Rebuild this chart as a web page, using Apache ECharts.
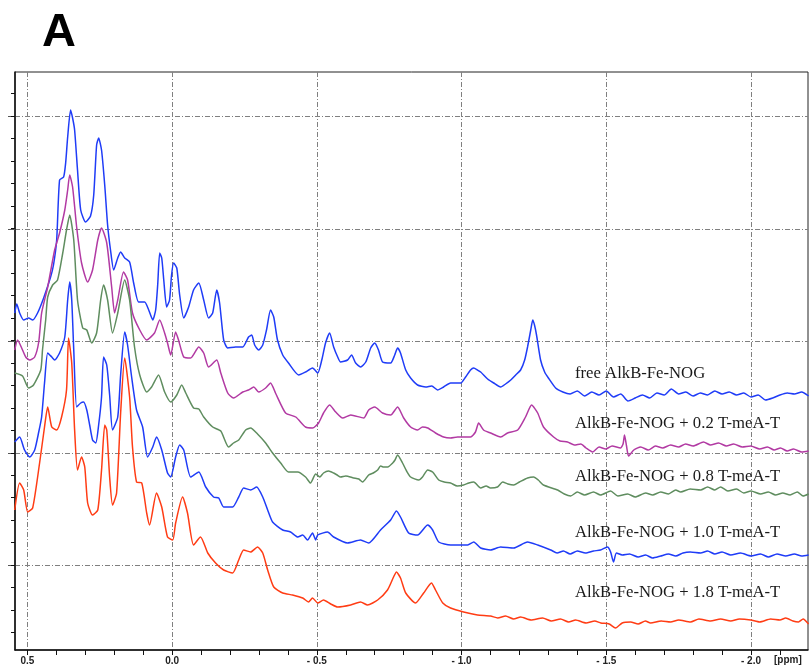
<!DOCTYPE html>
<html>
<head>
<meta charset="utf-8">
<script src="https://cdn.jsdelivr.net/npm/echarts@6/dist/echarts.min.js"></script>
<style>html,body{margin:0;padding:0;background:#fff}#c{width:810px;height:672px}</style>
</head>
<body>
<div id="c"></div>
<script>
// Chemical shift (ppm) / intensity (arbitrary units, stacked traces)
const freeAlkB = [[0.544,337],[0.537,346],[0.527,337],[0.513,330],[0.496,332],[0.482,330],[0.465,337],[0.444,352],[0.420,373],[0.410,385],[0.399,410],[0.389,470],[0.375,473],[0.368,487],[0.361,513],[0.351,540],[0.344,532],[0.337,520],[0.327,480],[0.316,440],[0.299,428],[0.282,434],[0.271,455],[0.261,505],[0.254,512],[0.244,500],[0.233,465],[0.223,425],[0.213,400],[0.202,380],[0.188,392],[0.178,398],[0.164,392],[0.147,388],[0.133,367],[0.116,348],[0.095,348],[0.081,340],[0.067,330],[0.057,340],[0.050,365],[0.043,397],[0.036,392],[0.029,370],[0.019,343],[0.009,350],[0.002,375],[-0.005,387],[-0.016,382],[-0.026,355],[-0.040,332],[-0.057,343],[-0.074,360],[-0.092,367],[-0.109,350],[-0.126,332],[-0.140,337],[-0.154,360],[-0.164,347],[-0.178,310],[-0.192,302],[-0.219,303],[-0.244,303],[-0.264,313],[-0.275,315],[-0.285,305],[-0.299,300],[-0.313,305],[-0.326,320],[-0.340,340],[-0.351,333],[-0.364,310],[-0.382,295],[-0.402,287],[-0.437,275],[-0.461,278],[-0.485,282],[-0.503,277],[-0.517,290],[-0.530,307],[-0.544,317],[-0.558,303],[-0.572,293],[-0.582,288],[-0.606,290],[-0.620,295],[-0.634,287],[-0.651,283],[-0.669,288],[-0.686,302],[-0.700,307],[-0.713,300],[-0.727,288],[-0.755,287],[-0.769,295],[-0.779,302],[-0.789,297],[-0.807,280],[-0.824,272],[-0.848,265],[-0.876,263],[-0.897,264],[-0.917,260],[-0.938,263],[-0.962,267],[-0.997,267],[-1.014,273],[-1.031,280],[-1.042,282],[-1.055,280],[-1.066,278],[-1.090,271],[-1.111,267],[-1.135,263],[-1.152,266],[-1.170,270],[-1.187,275],[-1.204,280],[-1.218,290],[-1.228,303],[-1.239,320],[-1.246,330],[-1.252,325],[-1.259,315],[-1.273,290],[-1.287,278],[-1.300,272],[-1.325,262],[-1.350,258],[-1.375,256],[-1.400,259],[-1.425,254],[-1.450,258],[-1.475,255],[-1.500,259],[-1.525,253],[-1.550,256],[-1.575,249],[-1.600,252],[-1.625,255],[-1.650,252],[-1.675,257],[-1.700,255],[-1.725,261],[-1.750,256],[-1.775,258],[-1.800,254],[-1.825,257],[-1.850,255],[-1.875,259],[-1.900,256],[-1.925,258],[-1.950,255],[-1.975,257],[-2.000,253],[-2.025,255],[-2.050,250],[-2.075,252],[-2.100,255],[-2.125,257],[-2.150,256],[-2.175,258],[-2.199,254]];

const plus02 = [[0.544,300],[0.534,310],[0.520,302],[0.506,293],[0.492,290],[0.475,293],[0.461,308],[0.451,337],[0.430,363],[0.406,400],[0.389,417],[0.371,440],[0.361,460],[0.354,475],[0.344,463],[0.330,423],[0.313,387],[0.292,368],[0.275,380],[0.257,410],[0.244,422],[0.226,407],[0.209,363],[0.199,337],[0.188,350],[0.168,378],[0.154,370],[0.137,337],[0.112,320],[0.088,310],[0.061,317],[0.043,330],[0.026,317],[0.016,307],[0.005,295],[-0.012,318],[-0.022,310],[-0.040,293],[-0.064,292],[-0.092,303],[-0.109,297],[-0.126,283],[-0.154,290],[-0.168,277],[-0.192,257],[-0.212,252],[-0.244,258],[-0.264,260],[-0.282,263],[-0.299,258],[-0.323,262],[-0.340,267],[-0.357,257],[-0.392,237],[-0.427,233],[-0.461,223],[-0.485,222],[-0.506,227],[-0.523,237],[-0.544,245],[-0.565,238],[-0.589,232],[-0.617,235],[-0.662,232],[-0.679,240],[-0.700,243],[-0.727,237],[-0.755,235],[-0.779,243],[-0.800,232],[-0.824,223],[-0.848,220],[-0.865,223],[-0.883,222],[-0.910,217],[-0.938,213],[-0.962,212],[-0.986,213],[-1.031,213],[-1.048,218],[-1.059,227],[-1.076,220],[-1.100,217],[-1.135,213],[-1.159,217],[-1.194,220],[-1.221,233],[-1.242,245],[-1.263,237],[-1.283,223],[-1.318,213],[-1.340,209],[-1.366,208],[-1.390,205],[-1.412,206],[-1.430,202],[-1.453,198],[-1.475,203],[-1.498,201],[-1.520,204],[-1.549,202],[-1.558,206],[-1.563,215],[-1.570,204],[-1.577,194],[-1.595,200],[-1.619,203],[-1.645,200],[-1.670,204],[-1.695,202],[-1.722,205],[-1.750,203],[-1.774,206],[-1.800,204],[-1.836,208],[-1.860,205],[-1.888,207],[-1.915,204],[-1.940,206],[-1.970,203],[-1.999,204],[-2.030,201],[-2.057,203],[-2.080,200],[-2.102,202],[-2.125,199],[-2.147,201],[-2.175,198],[-2.199,199]];

const plus08 = [[0.544,277],[0.517,274],[0.496,262],[0.479,265],[0.454,280],[0.448,300],[0.437,330],[0.430,353],[0.413,365],[0.396,370],[0.378,397],[0.365,420],[0.354,435],[0.340,410],[0.327,350],[0.309,322],[0.295,320],[0.278,307],[0.261,317],[0.247,350],[0.237,365],[0.223,350],[0.206,317],[0.188,337],[0.164,370],[0.147,350],[0.130,303],[0.112,275],[0.088,258],[0.071,263],[0.047,275],[0.026,258],[0.005,248],[-0.016,255],[-0.033,265],[-0.047,257],[-0.074,242],[-0.092,241],[-0.109,233],[-0.140,223],[-0.168,219],[-0.195,203],[-0.212,207],[-0.230,210],[-0.254,220],[-0.271,222],[-0.295,216],[-0.323,207],[-0.347,197],[-0.375,187],[-0.402,178],[-0.434,178],[-0.461,173],[-0.478,167],[-0.496,176],[-0.510,173],[-0.523,177],[-0.540,179],[-0.558,177],[-0.570,175],[-0.582,173],[-0.600,174],[-0.627,172],[-0.645,171],[-0.658,168],[-0.679,175],[-0.695,177],[-0.710,180],[-0.720,184],[-0.731,183],[-0.745,183],[-0.762,187],[-0.770,190],[-0.779,195],[-0.796,187],[-0.810,179],[-0.824,173],[-0.852,170],[-0.865,173],[-0.883,180],[-0.900,178],[-0.921,170],[-0.940,168],[-0.962,167],[-0.985,164],[-1.007,165],[-1.025,167],[-1.042,168],[-1.066,162],[-1.085,164],[-1.100,162],[-1.124,163],[-1.142,168],[-1.160,166],[-1.180,165],[-1.200,168],[-1.228,172],[-1.249,173],[-1.265,170],[-1.283,165],[-1.332,160],[-1.355,156],[-1.377,154],[-1.400,158],[-1.425,155],[-1.456,158],[-1.480,155],[-1.515,159],[-1.540,154],[-1.574,156],[-1.600,153],[-1.636,157],[-1.660,155],[-1.688,158],[-1.715,156],[-1.740,160],[-1.757,158],[-1.790,161],[-1.826,160],[-1.850,163],[-1.875,160],[-1.895,163],[-1.920,159],[-1.950,161],[-1.975,157],[-2.000,159],[-2.033,156],[-2.060,158],[-2.085,155],[-2.110,157],[-2.135,155],[-2.160,158],[-2.180,154],[-2.199,156]];

const plus10 = [[0.544,208],[0.527,213],[0.510,200],[0.492,193],[0.475,200],[0.461,218],[0.451,233],[0.441,267],[0.430,297],[0.416,293],[0.406,290],[0.389,297],[0.371,313],[0.361,350],[0.354,368],[0.347,350],[0.340,300],[0.330,243],[0.316,247],[0.306,248],[0.295,240],[0.285,225],[0.275,210],[0.264,207],[0.254,225],[0.244,253],[0.237,293],[0.226,285],[0.216,255],[0.206,220],[0.188,233],[0.178,275],[0.164,318],[0.154,305],[0.140,273],[0.123,240],[0.102,223],[0.085,193],[0.067,203],[0.054,213],[0.036,200],[0.016,177],[0.005,173],[-0.012,193],[-0.026,205],[-0.040,200],[-0.064,173],[-0.092,178],[-0.116,163],[-0.143,153],[-0.161,152],[-0.178,143],[-0.209,143],[-0.230,153],[-0.247,162],[-0.271,160],[-0.292,163],[-0.313,153],[-0.330,140],[-0.347,128],[-0.382,120],[-0.409,118],[-0.434,113],[-0.451,115],[-0.468,110],[-0.485,117],[-0.496,110],[-0.503,115],[-0.537,118],[-0.558,113],[-0.606,107],[-0.651,110],[-0.679,107],[-0.720,120],[-0.755,130],[-0.775,139],[-0.789,133],[-0.817,117],[-0.848,115],[-0.883,125],[-0.900,120],[-0.921,108],[-0.962,105],[-1.021,105],[-1.042,108],[-1.066,102],[-1.100,100],[-1.135,103],[-1.180,102],[-1.228,108],[-1.263,105],[-1.308,100],[-1.330,97],[-1.352,99],[-1.375,96],[-1.400,99],[-1.428,97],[-1.456,99],[-1.480,100],[-1.504,103],[-1.515,98],[-1.525,88],[-1.535,97],[-1.555,95],[-1.580,96],[-1.610,93],[-1.636,95],[-1.660,92],[-1.688,94],[-1.715,96],[-1.740,94],[-1.765,97],[-1.790,98],[-1.826,97],[-1.850,99],[-1.875,96],[-1.900,98],[-1.930,95],[-1.964,97],[-2.000,94],[-2.033,96],[-2.060,93],[-2.090,96],[-2.120,94],[-2.150,96],[-2.175,94],[-2.199,95]];

const plus18 = [[0.544,140],[0.527,167],[0.513,160],[0.499,138],[0.482,142],[0.458,187],[0.441,223],[0.430,243],[0.416,223],[0.399,220],[0.382,233],[0.365,260],[0.358,312],[0.347,287],[0.337,220],[0.327,180],[0.313,193],[0.302,183],[0.292,147],[0.275,135],[0.257,140],[0.244,180],[0.233,225],[0.226,220],[0.216,173],[0.206,145],[0.192,157],[0.178,237],[0.164,292],[0.147,253],[0.137,203],[0.123,168],[0.105,167],[0.088,137],[0.078,125],[0.054,157],[0.036,143],[0.016,113],[-0.002,110],[-0.012,127],[-0.036,153],[-0.053,137],[-0.074,105],[-0.098,113],[-0.123,97],[-0.150,87],[-0.178,80],[-0.209,77],[-0.230,90],[-0.247,100],[-0.271,98],[-0.295,103],[-0.313,97],[-0.330,80],[-0.351,63],[-0.382,57],[-0.416,55],[-0.451,52],[-0.471,48],[-0.485,52],[-0.503,47],[-0.523,50],[-0.548,46],[-0.572,43],[-0.617,45],[-0.651,48],[-0.675,45],[-0.710,50],[-0.744,60],[-0.765,73],[-0.775,78],[-0.789,72],[-0.807,57],[-0.841,47],[-0.869,57],[-0.896,67],[-0.910,60],[-0.935,47],[-0.962,42],[-1.007,38],[-1.055,35],[-1.100,34],[-1.125,32],[-1.152,34],[-1.180,31],[-1.204,33],[-1.240,30],[-1.280,32],[-1.310,29],[-1.342,31],[-1.370,28],[-1.394,30],[-1.430,27],[-1.460,29],[-1.481,27],[-1.510,26],[-1.532,22],[-1.555,27],[-1.584,28],[-1.610,26],[-1.635,29],[-1.653,27],[-1.690,29],[-1.722,28],[-1.750,30],[-1.791,28],[-1.820,31],[-1.860,29],[-1.895,31],[-1.930,29],[-1.960,31],[-1.999,30],[-2.030,28],[-2.068,31],[-2.100,30],[-2.120,32],[-2.145,29],[-2.164,28],[-2.180,31],[-2.199,26]];

const seriesNames = ['free AlkB-Fe-NOG','AlkB-Fe-NOG + 0.2 T-meA-T','AlkB-Fe-NOG + 0.8 T-meA-T','AlkB-Fe-NOG + 1.0 T-meA-T','AlkB-Fe-NOG + 1.8 T-meA-T'];
const seriesColors = ['#1f3cf7','#b23aa3','#5f8d5f','#1f3cf7','#ff3c14'];
const xMajorTicks = [0.5, 0.0, -0.5, -1.0, -1.5, -2.0];
const yMajorTicks = [85, 197, 309, 421, 534];

const xMinorTicks = [];
for (let i = 5; i >= -21; i--) xMinorTicks.push(i / 10);
const yMinorTicks = [];
const yStep = (yMajorTicks[4] - yMajorTicks[0]) / 20;
for (let k = -3; k <= 21; k++) yMinorTicks.push(+(yMajorTicks[0] + k * yStep).toFixed(2));

const XMIN = -2.197, XMAX = 0.543, YMIN = 0, YMAX = 578;
const grid = {left: 15, right: 2, top: 72, bottom: 22, show: true, borderColor: '#222', borderWidth: 1, backgroundColor: 'transparent'};
const gridLine = {show: true, lineStyle: {color: '#808080', width: 1, type: [5, 2, 1, 2]}};

const chart = echarts.init(document.getElementById('c'), null, {renderer: 'canvas'});
const dataSets = [freeAlkB, plus02, plus08, plus10, plus18];
const labelY = [373, 423, 476, 532, 592];

chart.setOption({
  animation: false,
  backgroundColor: '#fff',
  title: {text: 'A', left: 37, top: 5, textStyle: {fontSize: 47, fontWeight: 'bold', fontFamily: 'Liberation Sans', color: '#000'}},
  grid: grid,
  xAxis: [
    {type: 'value', min: XMIN, max: XMAX, inverse: true,
     axisLine: {show: true, onZero: false, lineStyle: {color: '#111', width: 1.5}},
     axisTick: {show: true, length: 5, customValues: xMajorTicks, lineStyle: {color: '#111', width: 1}},
     axisLabel: {show: true, customValues: xMajorTicks, margin: 6, fontSize: 10, fontWeight: 'bold', fontFamily: 'Liberation Sans', color: '#222',
       formatter: function (v) { v = Math.round(v * 10) / 10; return v < 0 ? '- ' + Math.abs(v).toFixed(1) : v.toFixed(1); }},
     splitLine: gridLine},
    {type: 'value', min: XMIN, max: XMAX, inverse: true, position: 'bottom',
     axisLine: {show: false, onZero: false},
     axisTick: {show: true, length: 5, customValues: xMinorTicks, lineStyle: {color: '#111', width: 1}},
     axisLabel: {show: false}, splitLine: {show: false}}
  ],
  yAxis: [
    {type: 'value', min: YMIN, max: YMAX,
     axisLine: {show: true, onZero: false, lineStyle: {color: '#111', width: 1.5}},
     axisTick: {show: true, length: 7, customValues: yMajorTicks, lineStyle: {color: '#555', width: 1}},
     axisLabel: {show: false}, splitLine: gridLine},
    {type: 'value', min: YMIN, max: YMAX, position: 'left',
     axisLine: {show: false, onZero: false},
     axisTick: {show: true, length: 4, customValues: yMinorTicks, lineStyle: {color: '#111', width: 1}},
     axisLabel: {show: false}, splitLine: {show: false}}
  ],
  series: dataSets.map(function (d, i) {
    return {name: seriesNames[i], type: 'line', xAxisIndex: 0, yAxisIndex: 0, data: d, showSymbol: false, symbol: 'none',
      smooth: 0.2, clip: true, lineStyle: {color: seriesColors[i], width: 1.5}, z: 3};
  }),
  graphic: seriesNames.map(function (n, i) {
    return {type: 'text', left: 575, top: labelY[i] - 8, z: 10,
      style: {text: n, fontSize: 16.7, fontFamily: 'Liberation Serif', fill: '#1a1a1a'}};
  }).concat([{type: 'text', left: 774, top: 655, z: 10, style: {text: '[ppm]', fontSize: 10, fontWeight: 'bold', fontFamily: 'Liberation Sans', fill: '#222'}}])
});
</script>
</body>
</html>
